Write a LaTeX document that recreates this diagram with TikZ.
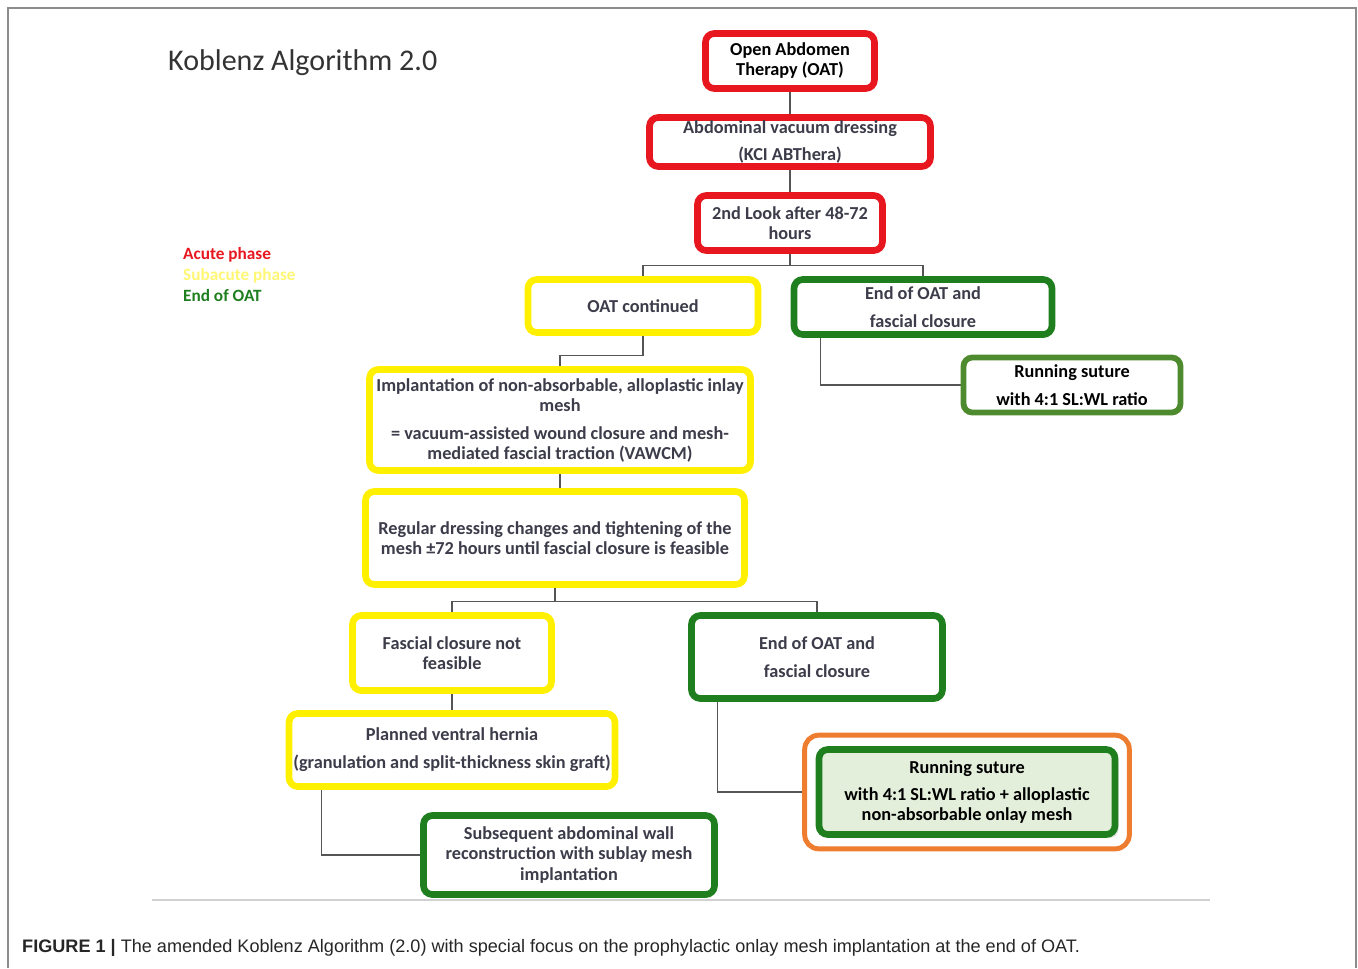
\documentclass[tikz,border=0pt]{standalone}
\usepackage{fontspec}
\setmainfont{Carlito}
\newfontfamily\captionfont{Liberation Sans}
\usepackage{xcolor}
\usepackage{tikz}
\usetikzlibrary{shapes,arrows,arrows.meta,fit,backgrounds,shadows}

\definecolor{acutered}{HTML}{E8161E}
\definecolor{subyellow}{HTML}{FFF000}
\definecolor{endgreen}{HTML}{1F7F1F}
\definecolor{olivegreen}{HTML}{4E8A2E}
\definecolor{onlayorange}{HTML}{EE7D30}
\definecolor{onlayfill}{HTML}{E3EFDB}
\definecolor{boxtext}{HTML}{3C3C4A}
\definecolor{linegray}{HTML}{555555}

\begin{document}
\begin{tikzpicture}[x=0.02cm, y=-0.02cm]
		% Define the styles for the boxes and lines
		\tikzstyle{stage}=[rectangle, rounded corners=5pt, line width=3.8pt, fill=white, align=center, text=boxtext, font=\fontsize{10.4}{11.4}\selectfont\bfseries, inner sep=1pt]
		\tikzstyle{acute}=[stage, draw=acutered]
		\tikzstyle{subacute}=[stage, draw=subyellow]
		\tikzstyle{endoat}=[stage, draw=endgreen]
		\tikzstyle{legend}=[anchor=west, font=\fontsize{9.8}{11}\selectfont\bfseries]
		\tikzstyle{conn}=[draw=linegray, line width=0.7pt]

		\useasboundingbox (0,0) rectangle (1358,968);

		% Title and legend
		\node[anchor=west, font=\fontsize{17.1}{20}\selectfont, text=black!80] (title) at (162,63) {Koblenz Algorithm 2.0};
		\node[legend, text=acutered] (lgacute) at (177,255) {Acute phase};
		\node[legend, text=subyellow!55] (lgsub) at (177,276) {Subacute phase};
		\node[legend, text=endgreen] (lgend) at (177,296) {End of OAT};

		% Define nodes
		\node[acute, text=black, minimum width=3.38cm, minimum height=1.10cm] (oat) at (790,61) {Open Abdomen\\Therapy (OAT)};
		\node[acute, minimum width=5.62cm, minimum height=0.98cm] (vac) at (790,142) {Abdominal vacuum dressing\\[4pt](KCI ABThera)};
		\node[acute, minimum width=3.70cm, minimum height=1.10cm] (look) at (790,223) {2nd Look after 48-72\\hours};
		\node[subacute, minimum width=4.60cm, minimum height=1.06cm] (cont) at (643,306) {OAT continued};
		\node[endoat, minimum width=5.16cm, minimum height=1.10cm] (endA) at (923,307) {End of OAT and\\[4.5pt]fascial closure};
		\node[endoat, draw=olivegreen, line width=3.3pt, text=black, minimum width=4.34cm, minimum height=1.10cm] (runA) at (1072,385) {Running suture\\[4.5pt]with 4:1 SL:WL ratio};
		\node[subacute, minimum width=7.62cm, minimum height=2.02cm] (impl) at (560,420) {Implantation of non-absorbable, alloplastic inlay\\mesh\\[4.5pt]= vacuum-assisted wound closure and mesh-\\mediated fascial traction (VAWCM)};
		\node[subacute, minimum width=7.58cm, minimum height=1.86cm] (regul) at (555,538) {Regular dressing changes and tightening of the\\mesh ±72 hours until fascial closure is feasible};
		\node[subacute, minimum width=3.98cm, minimum height=1.50cm] (notf) at (452,653) {Fascial closure not\\feasible};
		\node[endoat, minimum width=5.02cm, minimum height=1.66cm] (endB) at (817,657) {End of OAT and\\[4.5pt]fascial closure};
		\node[subacute, minimum width=6.52cm, minimum height=1.46cm] (hern) at (452,750) {Planned ventral hernia\\[4.5pt](granulation and split-thickness skin graft)};
		\node[endoat, minimum width=5.82cm, minimum height=1.58cm] (subs) at (569,855) {Subsequent abdominal wall\\reconstruction with sublay mesh\\implantation};
		\node[endoat, fill=onlayfill, text=black, minimum width=5.92cm, minimum height=1.70cm, drop shadow={opacity=0.25, shadow xshift=2pt, shadow yshift=-2pt}] (runB) at (967,792) {Running suture\\[4.5pt]with 4:1 SL:WL ratio + alloplastic\\non-absorbable onlay mesh};
		\node[draw=onlayorange, line width=2.8pt, rounded corners=8pt, fit=(runB), inner sep=0.22cm] (onlay) {};

		% Caption
		\node[anchor=west, font=\captionfont\fontsize{10.3}{12}\selectfont, text=black!85] (caption) at (16,948) {\textbf{FIGURE 1 |} The amended Koblenz Algorithm (2.0) with special focus on the prophylactic onlay mesh implantation at the end of OAT.};

		% Define edges
		\begin{scope}[on background layer]
		\draw[black!45, line width=0.6pt] (8,968) -- (8,8) -- (1356,8) -- (1356,968);
		\draw[black!18, line width=1.2pt] (152,900) -- (1210,900);

		\draw[conn] (oat) -- (vac);
		\draw[conn] (vac) -- (look);
		\draw[conn] (look.south) -- ++(0,12) -| (cont.north);
		\draw[conn] (look.south) -- ++(0,12) -| (endA.north);
		\draw[conn] (cont.south) -- ++(0,20) -| (impl.north);
		\draw[conn] (impl.south) -- (impl.south |- regul.north);
		\draw[conn] (regul.south) -- ++(0,14) -| (notf.north);
		\draw[conn] (regul.south) -- ++(0,14) -| (endB.north);
		\draw[conn] (notf) -- (hern);
		\draw[conn] ([xshift=0.72cm]hern.south west) |- (subs.west);
		\draw[conn] ([xshift=0.58cm]endB.south west) |- (onlay.west);
		\draw[conn] ([xshift=0.60cm]endA.south west) |- (runA.west);
		\end{scope}
	\end{tikzpicture}
\end{document}
